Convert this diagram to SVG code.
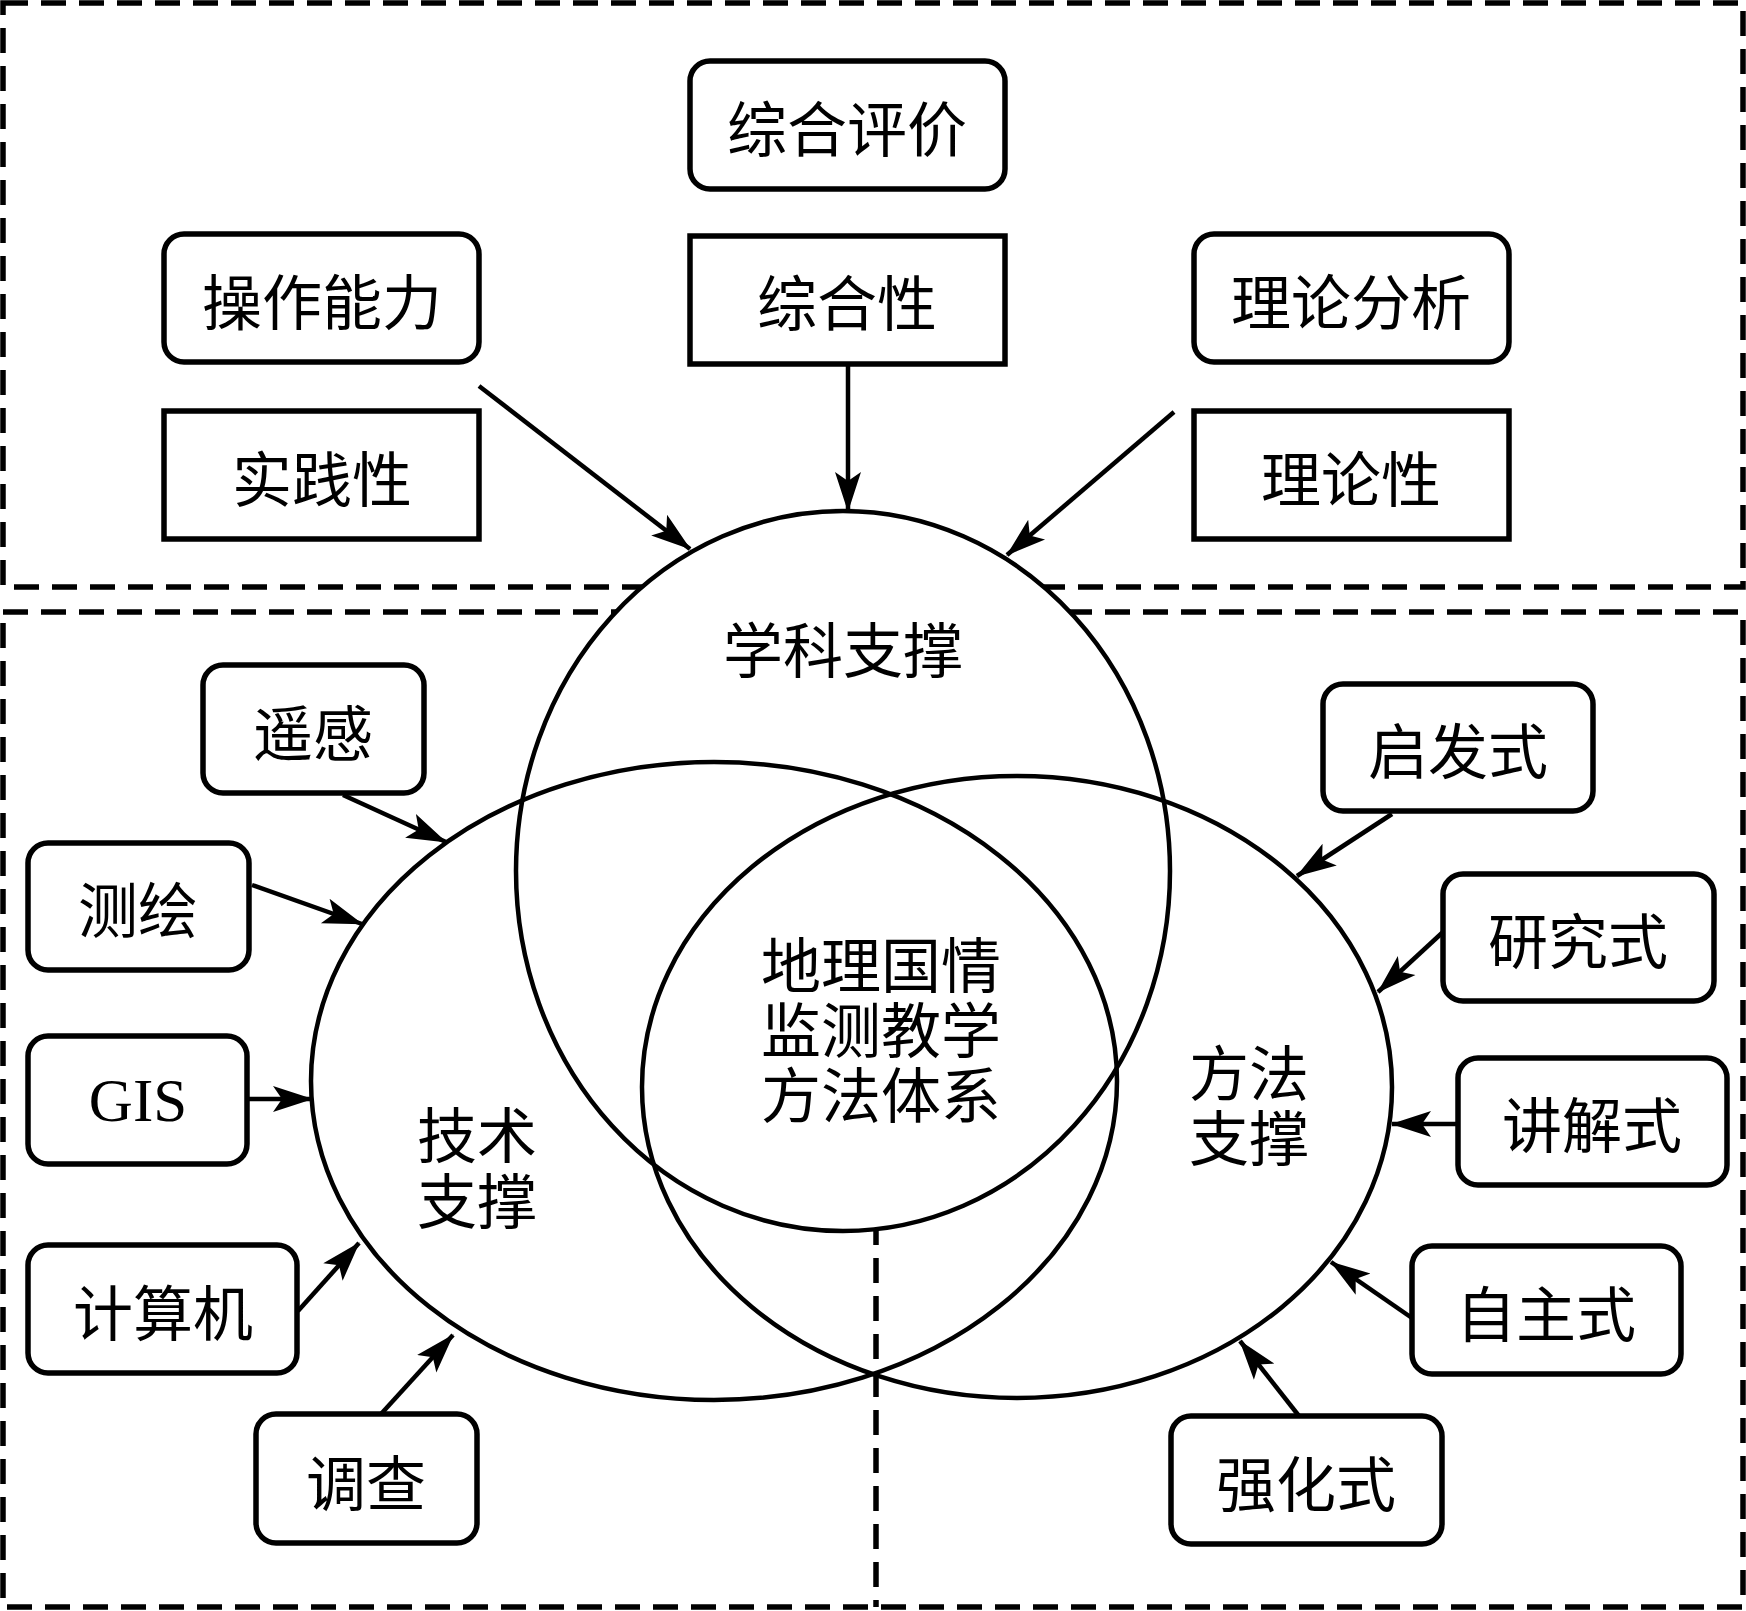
<svg xmlns="http://www.w3.org/2000/svg" width="1746" height="1611" viewBox="0 0 1746 1611">
<style>
.dash{fill:none;stroke:#000;stroke-width:5.5;stroke-dasharray:25 13}
.box{fill:#fff;stroke:#000;stroke-width:5.5}
.ell{fill:none;stroke:#000;stroke-width:4.5}
.arr{fill:none;stroke:#000;stroke-width:4.5;marker-end:url(#ah)}
text{font-family:"Noto Sans CJK SC","Liberation Serif",serif;font-size:60px;fill:#000;text-anchor:middle;dominant-baseline:central}
.lat{font-family:"Liberation Serif",serif;font-size:61px}
</style>
<defs>
<marker id="ah" markerUnits="userSpaceOnUse" markerWidth="42" markerHeight="30" refX="39" refY="15" orient="auto">
<path d="M0,2 L40,15 L0,28 L9,15 Z" fill="#000"/>
</marker>
</defs>
<rect width="1746" height="1611" fill="#fff"/>
<g id="frames">
<rect class="dash" x="3" y="3" width="1740" height="584"/>
<rect class="dash" x="3" y="612" width="1740" height="995"/>
<line class="dash" x1="876" y1="612" x2="876" y2="1607"/>
</g>
<g id="circles">
<ellipse cx="843" cy="871" rx="327" ry="360" fill="#fff" stroke="none"/>
<ellipse id="tech" class="ell" cx="714" cy="1081" rx="403" ry="319"/>
<ellipse id="method" class="ell" cx="1017" cy="1087" rx="375" ry="311"/>
<ellipse id="subject" class="ell" cx="843" cy="871" rx="327" ry="360"/>
<text x="843" y="646">学科支撑</text>
<text x="477" y="1131">技术</text>
<text x="477" y="1197">支撑</text>
<text x="1249" y="1069">方法</text>
<text x="1249" y="1134">支撑</text>
<text x="881" y="961">地理国情</text>
<text x="881" y="1026">监测教学</text>
<text x="881" y="1091">方法体系</text>
</g>
<g id="n-zhpj"><rect class="box" x="690" y="61" width="315" height="128" rx="20"/><text x="847" y="125">综合评价</text></g>
<g id="n-zhx"><rect class="box" x="690" y="236" width="315" height="128"/><text x="847" y="299">综合性</text></g>
<g id="n-cznl"><rect class="box" x="164" y="234" width="315" height="128" rx="20"/><text x="322" y="298">操作能力</text></g>
<g id="n-sjx"><rect class="box" x="164" y="411" width="315" height="128"/><text x="322" y="475">实践性</text></g>
<g id="n-llfx"><rect class="box" x="1194" y="234" width="315" height="128" rx="20"/><text x="1351" y="298">理论分析</text></g>
<g id="n-llx"><rect class="box" x="1194" y="411" width="315" height="128"/><text x="1351" y="475">理论性</text></g>
<g id="n-yg"><rect class="box" x="203" y="665" width="221" height="128" rx="20"/><text x="313" y="729">遥感</text></g>
<g id="n-ch"><rect class="box" x="28" y="843" width="221" height="127" rx="20"/><text x="138" y="906">测绘</text></g>
<g id="n-gis"><rect class="box" x="28" y="1036" width="219" height="128" rx="20"/><text class="lat" x="138" y="1100">GIS</text></g>
<g id="n-jsj"><rect class="box" x="28" y="1245" width="269" height="128" rx="20"/><text x="163" y="1309">计算机</text></g>
<g id="n-dc"><rect class="box" x="256" y="1414" width="221" height="129" rx="20"/><text x="366" y="1479">调查</text></g>
<g id="n-qfs"><rect class="box" x="1323" y="684" width="270" height="127" rx="20"/><text x="1458" y="747">启发式</text></g>
<g id="n-yjs"><rect class="box" x="1443" y="874" width="271" height="127" rx="20"/><text x="1578" y="937">研究式</text></g>
<g id="n-jjs"><rect class="box" x="1458" y="1058" width="269" height="127" rx="20"/><text x="1592" y="1121">讲解式</text></g>
<g id="n-zzs"><rect class="box" x="1412" y="1246" width="269" height="128" rx="20"/><text x="1546" y="1310">自主式</text></g>
<g id="n-qhs"><rect class="box" x="1171" y="1416" width="271" height="128" rx="20"/><text x="1306" y="1480">强化式</text></g>
<g id="connectors">
<line class="arr" x1="479" y1="386" x2="690" y2="549"/>
<line class="arr" x1="848" y1="364" x2="848" y2="511"/>
<line class="arr" x1="1174" y1="412" x2="1007" y2="555"/>
<line class="arr" x1="343" y1="795" x2="446" y2="842"/>
<line class="arr" x1="252" y1="885" x2="362" y2="924"/>
<line class="arr" x1="247" y1="1099" x2="312" y2="1099"/>
<line class="arr" x1="298" y1="1311" x2="359" y2="1243"/>
<line class="arr" x1="381" y1="1414" x2="453" y2="1335"/>
<line class="arr" x1="1392" y1="814" x2="1297" y2="876"/>
<line class="arr" x1="1443" y1="932" x2="1378" y2="992"/>
<line class="arr" x1="1458" y1="1124" x2="1392" y2="1124"/>
<line class="arr" x1="1412" y1="1318" x2="1331" y2="1262"/>
<line class="arr" x1="1299" y1="1416" x2="1240" y2="1341"/>
</g>
</svg>
